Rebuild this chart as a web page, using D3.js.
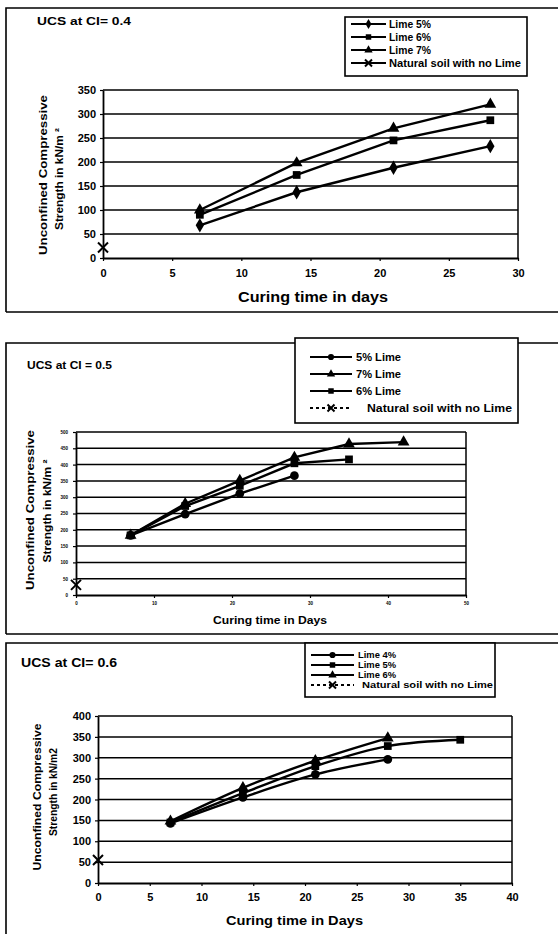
<!DOCTYPE html>
<html>
<head>
<meta charset="utf-8">
<script src="https://cdn.jsdelivr.net/npm/d3@7"></script>
<style>
  body { margin: 0; background: #fff; }
  svg { display: block; }
  text { font-family: "Liberation Sans", Arial, sans-serif; font-weight: bold; fill: #000; }
</style>
</head>
<body>
<svg id="chart" width="558" height="934"></svg>
<script>
// ---- panel 1 : CI = 0.4 ----
var days1 = [7, 14, 21, 28];
var lime5_ci4 = [68, 137, 188, 233];
var lime6_ci4 = [90, 173, 245, 287];
var lime7_ci4 = [100, 198, 270, 320];
var natural_ci4 = [22];
var yTicks1 = [0, 50, 100, 150, 200, 250, 300, 350];
var xTicks1 = [0, 5, 10, 15, 20, 25, 30];

// ---- panel 2 : CI = 0.5 ----
var days2 = [7, 14, 21, 28, 35, 42];
var lime5_ci5 = [183, 248, 311, 366];
var lime7_ci5 = [183, 280, 351, 422, 463, 469];
var lime6_ci5 = [183, 273, 335, 404, 416];
var natural_ci5 = [31];
var yTicks2 = [0, 50, 100, 150, 200, 250, 300, 350, 400, 450, 500];
var xTicks2 = [0, 10, 20, 30, 40, 50];

// ---- panel 3 : CI = 0.6 ----
var days3 = [7, 14, 21, 28, 35];
var lime4_ci6 = [143, 205, 260, 296];
var lime5_ci6 = [145, 215, 280, 328, 343];
var lime6_ci6 = [148, 228, 293, 347];
var natural_ci6 = [55];
var yTicks3 = [0, 50, 100, 150, 200, 250, 300, 350, 400];
var xTicks3 = [0, 5, 10, 15, 20, 25, 30, 35, 40];

var svg = d3.select("#chart");

// draw one marker at cx,cy
function marker(g, type, cx, cy, size) {
  if (type === "x") {
    var r = size;
    g.append("path")
      .attr("d", "M" + (cx - r) + "," + (cy - r) + "L" + (cx + r) + "," + (cy + r) +
                 "M" + (cx - r) + "," + (cy + r) + "L" + (cx + r) + "," + (cy - r))
      .attr("stroke", "#000").attr("stroke-width", 2).attr("fill", "none");
    return;
  }
  var sym = { diamond: d3.symbolDiamond, square: d3.symbolSquare,
              triangle: d3.symbolTriangle, circle: d3.symbolCircle }[type];
  g.append("path")
    .attr("d", d3.symbol().type(sym).size(size)())
    .attr("transform", "translate(" + cx + "," + cy + ")")
    .attr("fill", "#000");
}

function txt(g, s, x, y, size, len, anchor) {
  var t = g.append("text").attr("x", x).attr("y", y)
    .style("font-size", size + "px").text(s);
  if (anchor) t.attr("text-anchor", anchor);
  if (len) t.attr("textLength", len).attr("lengthAdjust", "spacingAndGlyphs");
  return t;
}

function drawPanel(o) {
  var g = svg.append("g");

  // outer frame
  g.append("path")
    .attr("d", "M" + o.box[0] + "," + o.box[3] + "V" + o.box[1] + "H" + o.box[2] +
               (o.boxClosed ? "V" + o.box[3] + "H" + o.box[0] : ""))
    .attr("fill", "none").attr("stroke", "#000").attr("stroke-width", 1.6);

  txt(g, o.title, o.titlePos[0], o.titlePos[1], o.titleSize, o.titlePos[2]);

  var x = d3.scaleLinear().domain([o.xTicks[0], o.xTicks[o.xTicks.length - 1]])
    .range([o.plot.l, o.plot.r]);
  var y = d3.scaleLinear().domain([o.yTicks[0], o.yTicks[o.yTicks.length - 1]])
    .range([o.plot.b, o.plot.t]);

  // gridlines
  g.selectAll(".grid").data(o.yTicks.slice(1)).enter().append("line")
    .attr("x1", o.plot.l).attr("x2", o.plot.r)
    .attr("y1", function(d) { return y(d); }).attr("y2", function(d) { return y(d); })
    .attr("stroke", "#000").attr("stroke-width", 1.5);
  // right frame of plot
  g.append("line").attr("x1", o.plot.r).attr("x2", o.plot.r)
    .attr("y1", o.plot.t).attr("y2", o.plot.b)
    .attr("stroke", "#000").attr("stroke-width", 1.5);

  var ax = g.append("g").attr("transform", "translate(0," + o.plot.b + ")")
    .call(d3.axisBottom(x).tickValues(o.xTicks).tickSize(3).tickSizeOuter(0).tickPadding(o.xPad));
  var ay = g.append("g").attr("transform", "translate(" + o.plot.l + ",0)")
    .call(d3.axisLeft(y).tickValues(o.yTicks).tickSize(3).tickSizeOuter(0).tickPadding(o.yPad));
  [ax, ay].forEach(function(a) {
    a.select(".domain").attr("stroke", "#000").attr("stroke-width", 1.8);
    a.selectAll(".tick line").attr("stroke", "#000").attr("stroke-width", 1.2);
    a.selectAll("text").style("font-size", o.tickSize + "px")
      .style("font-family", "'Liberation Sans', Arial, sans-serif").style("font-weight", "bold");
  });

  // axis titles
  txt(g, o.xTitle, o.xTitlePos[0], o.xTitlePos[1], o.xTitleSize, o.xTitlePos[2]);
  o.yTitle.forEach(function(line, i) {
    var p = o.yTitlePos[i];
    txt(g, line, 0, 0, o.yTitleSize, p[2], "middle")
      .attr("transform", "translate(" + p[0] + "," + p[1] + ") rotate(-90)")
      .attr("dy", "0.35em");
  });

  // series
  o.series.forEach(function(s) {
    var pts = s.vals.map(function(v, i) { return [s.days[i], v]; });
    if (pts.length > 1) {
      g.append("path").datum(pts)
        .attr("d", d3.line().x(function(d) { return x(d[0]); })
          .y(function(d) { return y(d[1]); }).curve(o.curve))
        .attr("fill", "none").attr("stroke", "#000").attr("stroke-width", 2.4);
    }
    pts.forEach(function(d) {
      marker(g, s.sym, x(d[0]), y(d[1]), s.sym === "x" ? 5 : 60);
    });
  });

  // legend
  var L = o.legend;
  g.append("rect").attr("x", L.x0).attr("y", L.y0)
    .attr("width", L.x1 - L.x0).attr("height", L.y1 - L.y0)
    .attr("fill", "#fff").attr("stroke", "#000").attr("stroke-width", 1.6);
  o.legendOrder.forEach(function(s, i) {
    var yy = L.rows[i];
    g.append("line").attr("x1", L.s0).attr("x2", L.s1).attr("y1", yy).attr("y2", yy)
      .attr("stroke", "#000").attr("stroke-width", 1.8)
      .attr("stroke-dasharray", s.dashed ? "3,3" : null);
    marker(g, s.sym, (L.s0 + L.s1) / 2, yy, s.sym === "x" ? 3.5 : 30);
    txt(g, s.label, s.sym === "x" ? L.tx2 : L.tx, yy + L.fs * 0.36, L.fs, s.len);
  });
}

var curveStraight = d3.curveLinear;

drawPanel({
  box: [6, 8, 560, 312], boxClosed: true,
  title: "UCS  at  CI= 0.4", titlePos: [37, 25, 94], titleSize: 11,
  plot: { l: 103, r: 518, t: 90, b: 258 },
  xTicks: xTicks1, yTicks: yTicks1, tickSize: 11, xPad: 8, yPad: 4,
  xTitle: "Curing time in days", xTitlePos: [238, 302, 150], xTitleSize: 14,
  yTitle: ["Unconfined Compressive", "Strength in kN/m \u00b2"],
  yTitlePos: [[43, 175, 160], [59, 179, 102]], yTitleSize: 11,
  curve: curveStraight,
  series: [
    { days: days1, vals: lime5_ci4, sym: "diamond" },
    { days: days1, vals: lime6_ci4, sym: "square" },
    { days: days1, vals: lime7_ci4, sym: "triangle" },
    { days: [0], vals: natural_ci4, sym: "x" }
  ],
  legend: { x0: 345, y0: 17, x1: 527, y1: 76, s0: 351, s1: 386, tx: 389, tx2: 389,
            rows: [24, 37, 50, 63], fs: 10 },
  legendOrder: [
    { label: "Lime 5%", sym: "diamond", len: 42 },
    { label: "Lime 6%", sym: "square", len: 42 },
    { label: "Lime 7%", sym: "triangle", len: 42 },
    { label: "Natural soil with no Lime", sym: "x", len: 132 }
  ]
});

drawPanel({
  box: [6, 343, 560, 634], boxClosed: true,
  title: "UCS at CI = 0.5", titlePos: [27, 369, 85], titleSize: 10,
  plot: { l: 76, r: 466, t: 432, b: 595 },
  xTicks: xTicks2, yTicks: yTicks2, tickSize: 4.5, xPad: 4, yPad: 5,
  xTitle: "Curing time in Days", xTitlePos: [213, 624, 114], xTitleSize: 10,
  yTitle: ["Unconfined Compressive", "Strength in kN/m \u00b2"],
  yTitlePos: [[30, 510, 160], [47, 511, 103]], yTitleSize: 11,
  curve: curveStraight,
  series: [
    { days: days2.slice(0, 4), vals: lime5_ci5, sym: "circle" },
    { days: days2, vals: lime7_ci5, sym: "triangle" },
    { days: days2.slice(0, 5), vals: lime6_ci5, sym: "square" },
    { days: [0], vals: natural_ci5, sym: "x" }
  ],
  legend: { x0: 295, y0: 338, x1: 518, y1: 423, s0: 310, s1: 352, tx: 356, tx2: 367,
            rows: [357, 374, 391, 408], fs: 10 },
  legendOrder: [
    { label: "5% Lime", sym: "circle", len: 45 },
    { label: "7% Lime", sym: "triangle", len: 45 },
    { label: "6% Lime", sym: "square", len: 45 },
    { label: "Natural soil with no Lime", sym: "x", dashed: true, len: 145 }
  ]
});

drawPanel({
  box: [6, 643, 560, 960], boxClosed: false,
  title: "UCS  at CI= 0.6", titlePos: [21, 667, 96], titleSize: 12,
  plot: { l: 98, r: 512, t: 716, b: 883 },
  xTicks: xTicks3, yTicks: yTicks3, tickSize: 11, xPad: 7, yPad: 4,
  xTitle: "Curing time in Days", xTitlePos: [226, 925, 137], xTitleSize: 12,
  yTitle: ["Unconfined Compressive", "Strength in kN/m2"],
  yTitlePos: [[37, 797, 147], [53, 792, 88]], yTitleSize: 10.5,
  curve: d3.curveMonotoneX,
  series: [
    { days: days3.slice(0, 4), vals: lime4_ci6, sym: "circle" },
    { days: days3, vals: lime5_ci6, sym: "square" },
    { days: days3.slice(0, 4), vals: lime6_ci6, sym: "triangle" },
    { days: [0], vals: natural_ci6, sym: "x" }
  ],
  legend: { x0: 305, y0: 643, x1: 495, y1: 697, s0: 311, s1: 354, tx: 358, tx2: 362,
            rows: [655, 665, 675, 685], fs: 9.5 },
  legendOrder: [
    { label: "Lime 4%", sym: "circle", len: 38 },
    { label: "Lime 5%", sym: "square", len: 38 },
    { label: "Lime 6%", sym: "triangle", len: 38 },
    { label: "Natural soil with no Lime", sym: "x", dashed: true, len: 131 }
  ]
});
</script>
</body>
</html>
